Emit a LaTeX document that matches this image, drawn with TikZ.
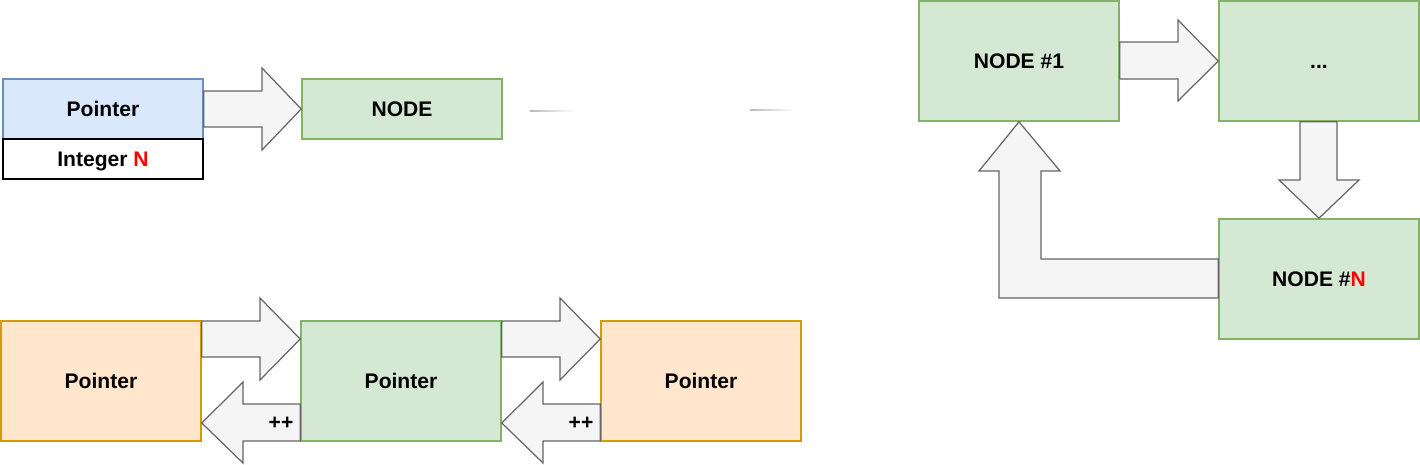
\documentclass[tikz,border=0pt]{standalone}
\usepackage{fontspec}
\setmainfont{Liberation Sans}
\definecolor{bluefill}{HTML}{DAE8FC}
\definecolor{blueline}{HTML}{6C8EBF}
\definecolor{greenfill}{HTML}{D5E8D4}
\definecolor{greenline}{HTML}{82B366}
\definecolor{orangefill}{HTML}{FFE6CC}
\definecolor{orangeline}{HTML}{D79B00}
\definecolor{arrowfill}{HTML}{F5F5F5}
\definecolor{arrowline}{HTML}{666666}
\begin{document}
\begin{tikzpicture}
[x=0.02cm, y=-0.02cm, font=\bfseries\fontsize{12}{14}\selectfont]
\tikzstyle{box}=[draw, line width=0.9pt, inner sep=0pt, text height=8.6pt, text depth=0pt, minimum width=4cm, minimum height=1.2cm]
\tikzstyle{bluebox}=[box, fill=bluefill, draw=blueline]
\tikzstyle{greenbox}=[box, fill=greenfill, draw=greenline]
\tikzstyle{tallgreen}=[greenbox, minimum height=2.4cm]
\tikzstyle{tallorange}=[box, fill=orangefill, draw=orangeline, minimum height=2.4cm]
\tikzstyle{intbox}=[box, fill=white, draw=black, minimum height=0.8cm]
\tikzstyle{blockarrow}=[fill=arrowfill, draw=arrowline, line width=0.7pt, line join=miter]
\useasboundingbox (0,0) rectangle (1420,464);

% pointer with its counter
\node[bluebox]    (Ptr)   at (103,109)  {Pointer};
\node[intbox]     (Int)   at (103,159)  {Integer \textcolor{red}{N}};
\node[greenbox]   (Nd)    at (402,109)  {NODE};
\draw[blockarrow] (Ptr.east |- 0,91) -- (262,91) -- (262,68) -- (Nd.west)
  -- (262,150) -- (262,127) -- (Ptr.east |- 0,127) -- cycle;
\shade[left color=gray!55, right color=white] (530,110.4) rectangle (575,111.6);
\shade[left color=gray!55, right color=white] (750,109.4) rectangle (795,110.6);

% pointer moving along the list
\node[tallorange] (PtrL)  at (101,381)  {Pointer};
\node[tallgreen]  (PtrM)  at (401,381)  {Pointer};
\node[tallorange] (PtrR)  at (701,381)  {Pointer};
\foreach \a/\b/\s in {PtrL/PtrM/0, PtrM/PtrR/300} {
  \draw[blockarrow] (\a.east |- 0,321) -- (260+\s,321) -- (260+\s,298) -- (\b.west |- 0,339)
    -- (260+\s,380) -- (260+\s,357) -- (\a.east |- 0,357) -- cycle;
  \draw[blockarrow] (\b.west |- 0,404) -- (243+\s,404) -- (243+\s,382) -- (\a.east |- 0,423)
    -- (243+\s,463) -- (243+\s,441) -- (\b.west |- 0,441) -- cycle;
  \node (inc\a) at (281+\s,423) {++};
}

% circular list
\node[tallgreen]  (N1)    at (1019,61)  {NODE \#1};
\node[tallgreen]  (Ndots) at (1319,61)  {...};
\node[tallgreen]  (NN)    at (1319,279) {NODE \#\textcolor{red}{N}};
\draw[blockarrow] (N1.east |- 0,42) -- (1178,42) -- (1178,20) -- (Ndots.west)
  -- (1178,101) -- (1178,79) -- (N1.east |- 0,79) -- cycle;
\draw[blockarrow] (1300,0 |- Ndots.south) -- (1300,180) -- (1279,180) -- (NN.north)
  -- (1359,180) -- (1337,180) -- (1337,0 |- Ndots.south) -- cycle;
\draw[blockarrow] (NN.west |- 0,259) -- (1041,259) -- (1041,171) -- (1060,171) -- (N1.south)
  -- (979,171) -- (999,171) -- (999,298) -- (NN.west |- 0,298) -- cycle;
\end{tikzpicture}
\end{document}
